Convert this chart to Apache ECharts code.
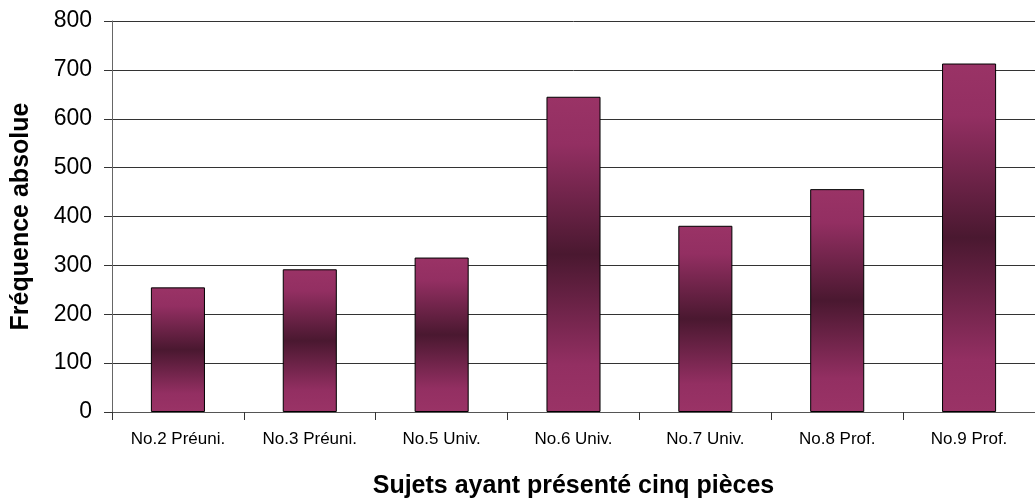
<!DOCTYPE html>
<html>
<head>
<meta charset="utf-8">
<script src="https://cdn.jsdelivr.net/npm/echarts@6/dist/echarts.min.js"></script>
<style>
  html, body { margin: 0; padding: 0; background: #fff; }
  #chart { width: 1035px; height: 504px; }
</style>
</head>
<body>
<div id="chart"></div>
<script>
// Sujets et fréquences absolues
const categories = ['No.2 Préuni.', 'No.3 Préuni.', 'No.5 Univ.', 'No.6 Univ.', 'No.7 Univ.', 'No.8 Prof.', 'No.9 Prof.'];
const frequencies = [255, 292, 316, 645, 381, 456, 713];
const yTicks = [0, 100, 200, 300, 400, 500, 600, 700, 800];

const FONT = '"Liberation Sans", Arial, sans-serif';

const chart = echarts.init(document.getElementById('chart'), null, { renderer: 'canvas' });

const barGradient = new echarts.graphic.LinearGradient(0, 0, 0, 1, [
  { offset: 0, color: '#9a3366' },
  { offset: 0.15, color: '#932f62' },
  { offset: 0.5, color: '#4a1830' },
  { offset: 0.85, color: '#932f62' },
  { offset: 1, color: '#9a3366' }
]);

chart.setOption({
  animation: false,
  backgroundColor: '#ffffff',
  grid: { left: 112, right: 0, top: 21, bottom: 92, containLabel: false },
  xAxis: {
    type: 'category',
    data: categories,
    name: 'Sujets ayant présenté cinq pièces',
    nameLocation: 'middle',
    nameGap: 62,
    nameTextStyle: { fontFamily: FONT, fontSize: 25, fontWeight: 'bold', color: '#000' },
    axisLine: { show: true, lineStyle: { color: '#555', width: 1 } },
    axisTick: { show: true, alignWithLabel: false, length: 8, lineStyle: { color: '#333' } },
    axisLabel: { fontFamily: FONT, fontSize: 17, color: '#000', margin: 19, interval: 0 },
    splitLine: { show: false }
  },
  yAxis: {
    type: 'value',
    min: yTicks[0],
    max: yTicks[yTicks.length - 1],
    interval: 100,
    name: 'Fréquence absolue',
    nameLocation: 'middle',
    nameGap: 78,
    nameRotate: 90,
    nameTextStyle: { fontFamily: FONT, fontSize: 25, fontWeight: 'bold', color: '#000' },
    axisLine: { show: true, lineStyle: { color: '#666', width: 1 } },
    axisTick: { show: true, inside: false, length: 8, lineStyle: { color: '#333' } },
    axisLabel: { fontFamily: FONT, fontSize: 23, color: '#000', margin: 20 },
    splitLine: { show: true, lineStyle: { color: '#333', width: 1 } }
  },
  series: [{
    type: 'bar',
    data: frequencies,
    barWidth: '41%',
    itemStyle: { color: barGradient, borderColor: '#000', borderWidth: 1 }
  }]
});
</script>
</body>
</html>
